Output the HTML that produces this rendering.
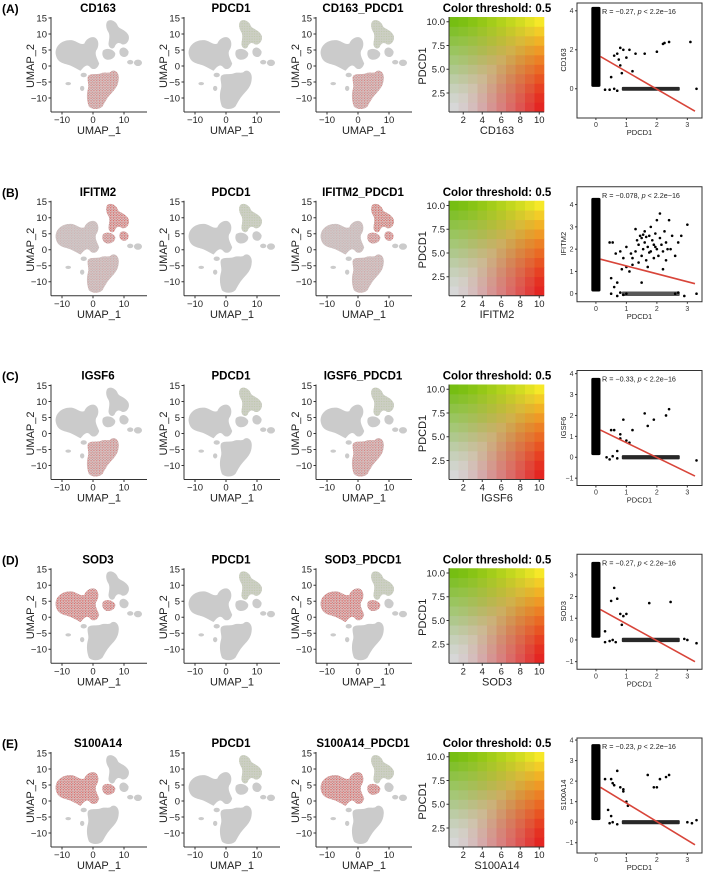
<!DOCTYPE html>
<html><head><meta charset="utf-8"><style>
body{margin:0;background:#fff;width:709px;height:873px;overflow:hidden}
svg text{font-family:"Liberation Sans",Arial,sans-serif}
</style></head><body>
<svg id="fig" width="709" height="873" xmlns="http://www.w3.org/2000/svg">
<defs>
<pattern id="redDots" width="0.9" height="0.8" patternUnits="userSpaceOnUse"><rect width="0.9" height="0.8" fill="#e2bcbc"/><circle cx="0.3" cy="0.3" r="0.22" fill="#d9534f"/><circle cx="0.72" cy="0.62" r="0.12" fill="#8a1c1c"/></pattern>
<pattern id="greenDots" width="0.8" height="0.8" patternUnits="userSpaceOnUse"><rect width="0.8" height="0.8" fill="#cdd0c4"/><circle cx="0.4" cy="0.4" r="0.18" fill="#b5c496"/></pattern>
</defs>
</svg>
<script>
const rowLabels=['(A)','(B)','(C)','(D)','(E)'];
const genes=['CD163','IFITM2','IGSF6','SOD3','S100A14'];
const rValues=['-0.27','-0.078','-0.33','-0.27','-0.23'];
const redRegion=['bottom','all','bottom','left','left'];
const umapTicks=[-10,0,10];
const umapYTicks=[15,10,5,0,-5,-10];
const heatXTicks=[2,4,6,8,10];
const heatYTicks=[2.5,5.0,7.5,10.0];
const scatXTicks=[0,1,2,3];
const scatYTicks=[[0,2,4],[0,1,2,3,4],[-1,0,1,2,3,4],[-1,0,1,2,3],[-1,0,1,2,3,4]];
const scatYDomain=[[-1.5,4.4],[-0.36,4.8],[-1.35,4.15],[-1.35,3.95],[-1.5,4.1]];
const bandTop=[4.2,4.3,3.8,3.6,3.8];
const lineY0=[1.65,1.55,1.3,1.4,1.7];
const lineY1=[-1.15,0.45,-0.9,-1.0,-1.1];
const outliers=[
[[0.5,0.6],[0.6,1.7],[0.7,1.8],[0.8,2.1],[0.9,2.0],[0.75,1.5],[0.8,1.2],[0.85,0.8],[1.0,1.6],[1.1,2.0],[1.2,0.9],[1.3,1.8],[1.6,1.8],[2.0,1.9],[2.2,2.3],[2.25,2.35],[2.4,2.4],[3.1,2.4],[3.3,0.0],[0.3,-0.05],[0.45,-0.05],[0.6,0.0],[0.7,-0.1]],
[[0.45,2.3],[0.5,0.7],[0.55,2.3],[0.6,0.3],[0.65,1.8],[0.7,0.5],[0.8,1.9],[0.85,1.1],[0.9,1.6],[1.0,1.2],[1.0,2.1],[1.1,1.0],[1.15,1.8],[1.2,1.3],[1.3,1.9],[1.3,2.9],[1.4,2.2],[1.45,2.6],[1.5,2.5],[1.5,1.7],[1.55,2.0],[1.6,2.8],[1.6,2.3],[1.65,1.5],[1.7,2.1],[1.75,2.6],[1.8,3.0],[1.8,1.9],[1.85,2.4],[1.9,1.6],[1.9,2.2],[1.95,2.7],[2.0,3.3],[2.0,2.0],[2.05,1.7],[2.1,2.5],[2.1,3.6],[2.15,2.2],[2.2,1.9],[2.25,2.8],[2.3,2.3],[2.3,1.5],[2.4,3.3],[2.45,2.0],[2.5,2.6],[2.6,1.7],[2.7,2.3],[2.8,2.6],[3.0,3.1],[1.2,1.6],[1.4,1.4],[1.7,1.2],[1.5,0.5],[2.2,1.1],[3.3,0.0],[0.5,0.0],[0.7,-0.1],[0.8,0.05],[0.9,-0.05],[1.0,0.0],[2.9,-0.1],[2.6,0.0],[2.7,0.05],[1.35,2.4],[1.65,2.55],[1.75,1.85],[2.35,2.0],[1.55,2.65],[1.95,2.1]],
[[0.5,1.3],[0.6,1.3],[0.7,0.3],[0.8,0.9],[0.9,1.8],[1.0,0.8],[1.1,0.7],[1.6,2.1],[1.7,1.5],[1.9,1.8],[2.3,2.0],[2.4,2.3],[0.8,1.1],[1.2,1.3],[3.3,-0.15],[0.35,0.0],[0.45,-0.1],[0.55,0.05],[0.7,-0.05]],
[[0.3,0.4],[0.5,1.8],[0.6,2.4],[0.7,1.9],[0.8,1.2],[0.9,1.1],[0.85,0.7],[1.0,1.2],[1.75,1.7],[2.45,1.75],[3.3,-0.15],[0.3,-0.1],[0.45,-0.05],[0.55,0.0],[0.65,-0.1],[2.9,0.05],[3.0,0.0]],
[[0.3,2.1],[0.5,2.1],[0.55,1.9],[0.6,1.8],[0.7,2.5],[0.8,1.7],[0.9,1.5],[0.9,1.6],[1.0,1.0],[1.05,0.8],[0.4,0.6],[0.5,0.3],[1.7,2.3],[1.9,1.7],[2.0,1.7],[2.1,2.1],[2.3,2.2],[2.4,2.3],[3.3,0.1],[0.45,-0.05],[0.55,0.0],[0.7,-0.1],[3.0,0.0],[3.15,-0.05]]
];
const bandX=[0.85,2.75];

const NS='http://www.w3.org/2000/svg';
const svg=document.getElementById('fig');
function mk(tag,attrs,parent){const e=document.createElementNS(NS,tag);for(const k in attrs)e.setAttribute(k,attrs[k]);(parent||svg).appendChild(e);return e;}
function txt(s,attrs,parent){const e=mk('text',attrs,parent);e.textContent=s;return e;}

const shapeLeft="M-12,3.5 C-12.5,6.5 -9.5,8.5 -6.5,8 C-5,7.6 -4,6.5 -2.8,7 C-2.2,8.5 -0.5,9.5 0.8,8.8 C2,8 2,6 1,4.8 C0.5,3.5 1.5,2 2,0.8 C1.5,-1 0,-1.5 -1,-0.3 C-2,0.8 -3,-0.3 -4,-1.5 C-5.2,-1 -6.3,-0.2 -7.8,0.3 C-9.5,0.8 -11.5,1 -12,3.5 Z";
const shapeTop="M4.5,13.8 C5.5,15 7.5,14 8,12.5 C8.5,11.5 10.5,11.5 11.5,9.5 C12,7.8 10.5,6.3 9.3,6.8 C8.3,7.5 7.5,7.2 7,6 C6.5,5 5,5.5 5,7 C5.2,8.5 5.5,9.5 5,10.5 C4.3,11.5 4,12.8 4.5,13.8 Z M9,5.5 C10,6.2 11,5.5 11.5,4.5 C11.5,3 10.3,2.5 9.3,3 C8.3,3.5 8.3,5 9,5.5 Z";
const shapeMid="M3.2,4.8 C4.3,5.9 6.7,5.3 7.2,3.9 C7.2,2.4 5.6,1.8 4.4,2 C3.2,2.3 2.7,3.6 3.2,4.8 Z";
const shapeBottom="M-1.5,-3 C-0.5,-2.2 1,-2.8 2.5,-2.3 C4,-1.7 5,-2.6 6,-1.6 C7.2,-1 8.5,-2.2 8.3,-4 C8.2,-6 7.2,-7.2 6.2,-8.2 C5.2,-9.2 4.2,-10.5 3.3,-12.2 C2.7,-13.7 -0.2,-13.8 -1.3,-12.7 C-2,-11 -2.2,-9 -1.6,-7 C-1.2,-5.5 -2.2,-4 -1.5,-3 Z";
const shapeSmall="M-8,-6 a0.9,0.5 0 1,0 0.01,0 Z M-3.5,-7.8 a0.7,0.8 0 1,0 0.01,0 Z M12,0.5 a1,0.7 0 1,0 0.01,0 Z M14.5,0 a1.3,1 0 1,0 0.01,0 Z M-3,-3.5 a1,0.7 0 1,0 0.01,0 Z M0.5,-0.5 a0.6,0.6 0 1,0 0.01,0 Z";

function umapPanel(g,ox,title,mode,row){
  const p=mk('g',{transform:`translate(${ox},0)`},g);
  
  
  const t=txt(title,{x:47,y:12,'text-anchor':'middle','font-size':11.5,'font-weight':'bold'},p);
  
  
  const sx=v=>42+v*3.1, sy=v=>66-v*3.2;
  const plot=mk('g',{transform:'translate(42,66) scale(3.1,-3.2)'},p);
  [shapeLeft,shapeTop,shapeMid,shapeBottom,shapeSmall].forEach(d=>mk('path',{d:d,fill:'#cbcbcb'},plot));
  if(mode==='pdcd1'||mode==='combo') mk('path',{d:shapeTop.split('Z')[0]+'Z',fill:'url(#greenDots)',opacity:0.8},plot);
  if(mode==='gene'||mode==='combo'){
    const reg=redRegion[row];
    let ds=[];
    if(reg==='bottom') ds=[shapeBottom];
    if(reg==='left') ds=[shapeLeft,shapeMid];
    if(reg==='all') ds=[shapeTop];
    ds.forEach(d=>mk('path',{d:d,fill:'url(#redDots)',opacity:reg==='bottom'?0.6:0.85},plot));
    if(reg==='all'){mk('path',{d:shapeLeft,fill:'url(#redDots)',opacity:0.2},plot);mk('path',{d:shapeBottom,fill:'url(#redDots)',opacity:0.3},plot);mk('path',{d:shapeMid,fill:'url(#redDots)',opacity:0.7},plot);}
  }
  const ax=mk('g',{stroke:'#333','stroke-width':1},p);
  
  
  mk('line',{x1:0,y1:17,x2:0,y2:112},ax);
  mk('line',{x1:0,y1:112,x2:96,y2:112},ax);
  umapYTicks.forEach(v=>{mk('line',{x1:-2.5,x2:0,y1:sy(v),y2:sy(v)},ax);
    const l=txt(String(v).replace('-','−'),{x:-4,y:sy(v)+3.3,'text-anchor':'end','font-size':9.5,fill:'#222'},p);
    
    });
  umapTicks.forEach(v=>{mk('line',{x1:sx(v),x2:sx(v),y1:112,y2:114.5},ax);
    const l=txt(String(v).replace('-','−'),{x:sx(v),y:123,'text-anchor':'middle','font-size':9.5,fill:'#222'},p);
    
    });
  const xt=txt('UMAP_1',{x:48,y:134,'text-anchor':'middle','font-size':11,fill:'#222'},p);
  
  
  const yt=txt('UMAP_2',{x:0,y:0,'text-anchor':'middle','font-size':11,fill:'#222',transform:'translate(-17,66) rotate(-90)'},p);
  
  
}

function heatPanel(g,row){
  const p=mk('g',{},g);
  
  
  const x0=449,y0=17,w=95,h=95;
  const hx=v=>x0+(v-0.5)*9.5, hy=v=>y0+(10.5-v)*9.5;
  const G=[206,206,206],R=[228,38,34],Gn=[118,190,18],Y=[246,232,40];
  for(let i=1;i<=10;i++)for(let j=1;j<=10;j++){
    const a=Math.pow((i-1)/9,1.3),b=Math.pow((j-1)/9,1.3);
    let c=[0,1,2].map(k=>(1-a)*(1-b)*G[k]+a*(1-b)*R[k]+(1-a)*b*Gn[k]+a*b*Y[k]);
    const lift=Math.max(0,0.35-Math.abs(a-b))*0.5*(1-Math.max(a,b));
    c=c.map(v=>Math.round(v+(255-v)*lift));
    const r=mk('rect',{x:hx(i-0.5),y:hy(j+0.5),width:9.8,height:9.8,fill:`rgb(${c})`},p);
    
    
  }
  const t=txt('Color threshold: 0.5',{x:497,y:12,'text-anchor':'middle','font-size':11.5,'font-weight':'bold'},p);
  
  
  mk('line',{x1:x0,y1:y0,x2:x0,y2:y0+h,stroke:'#333'},p);
  mk('line',{x1:x0,y1:y0+h,x2:x0+w,y2:y0+h,stroke:'#333'},p);
  heatXTicks.forEach(v=>{mk('line',{x1:hx(v),x2:hx(v),y1:y0+h,y2:y0+h+2.5,stroke:'#333'},p);
    const l=txt(String(v),{x:hx(v),y:123,'text-anchor':'middle','font-size':9.5,fill:'#222'},p);
    
    });
  heatYTicks.forEach(v=>{mk('line',{x1:x0-2.5,x2:x0,y1:hy(v),y2:hy(v),stroke:'#333'},p);
    const l=txt(v.toFixed(1),{x:x0-4,y:hy(v)+3.3,'text-anchor':'end','font-size':9.5,fill:'#222'},p);
    
    });
  const xt=txt(genes[row],{x:497,y:134,'text-anchor':'middle','font-size':11,fill:'#222'},p);
  
  
  const yt=txt('PDCD1',{x:0,y:0,'text-anchor':'middle','font-size':11,fill:'#222',transform:'translate(426,66) rotate(-90)'},p);
  
  
}

function scatterPanel(g,row){
  const p=mk('g',{},g);
  
  
  const bx0=577,bx1=702,by0=3,by1=118;
  const xd=[-0.62,3.48],yd=scatYDomain[row];
  const sx=v=>bx0+(v-xd[0])/(xd[1]-xd[0])*(bx1-bx0);
  const sy=v=>by1-(v-yd[0])/(yd[1]-yd[0])*(by1-by0);
  mk('rect',{x:bx0,y:by0,width:bx1-bx0,height:by1-by0,fill:'#fff'},p);
  const band=mk('rect',{x:sx(-0.15),y:sy(bandTop[row]),width:sx(0.15)-sx(-0.15),height:sy(0.1)-sy(bandTop[row]),fill:'#000',rx:1.5},p);
  
  
  const hb=mk('rect',{x:sx(bandX[0]),y:sy(0.1),width:sx(bandX[1])-sx(bandX[0]),height:Math.max(2.5,sy(-0.1)-sy(0.1)),fill:'#111',opacity:row===1?0.7:0.9,rx:1},p);
  
  
  outliers[row].forEach(pt=>{const c=mk('circle',{cx:sx(pt[0]),cy:sy(pt[1]),r:1.3,fill:'#000'},p);
    
    });
  const ln=mk('line',{x1:sx(0.15),y1:sy(lineY0[row]),x2:sx(3.25),y2:sy(lineY1[row]),stroke:'#d8453a','stroke-width':1.6},p);
  
  
  mk('rect',{x:bx0,y:by0,width:bx1-bx0,height:by1-by0,fill:'none',stroke:'#333','stroke-width':1},p);
  const lab=txt('',{x:sx(0.2),y:sy(yd[1])+11,'font-size':7.2,fill:'#222'},p);
  lab.innerHTML=`R = ${rValues[row].replace('-','−')}, <tspan font-style="italic">p</tspan> &lt; 2.2e−16`;
  
  
  scatXTicks.forEach(v=>{mk('line',{x1:sx(v),x2:sx(v),y1:by1,y2:by1+2,stroke:'#333'},p);
    const l=txt(String(v),{x:sx(v),y:by1+9,'text-anchor':'middle','font-size':7,fill:'#333'},p);
    
    });
  scatYTicks[row].forEach(v=>{mk('line',{x1:bx0-2,x2:bx0,y1:sy(v),y2:sy(v),stroke:'#333'},p);
    const l=txt(String(v).replace('-','−'),{x:bx0-3.5,y:sy(v)+2.4,'text-anchor':'end','font-size':7,fill:'#333'},p);
    
    });
  const xt=txt('PDCD1',{x:(bx0+bx1)/2,y:by1+17,'text-anchor':'middle','font-size':7.5,fill:'#222'},p);
  
  
  const yt=txt(genes[row],{x:0,y:0,'text-anchor':'middle','font-size':7.5,fill:'#222',transform:`translate(566,60) rotate(-90)`},p);
  
  
}

genes.forEach((gene,row)=>{
  const g=mk('g',{transform:`translate(0,${(row*183.75).toFixed(2)})`});
  
  
  const L=txt(rowLabels[row],{x:2,y:13,'font-size':12,'font-weight':'bold'},g);
  
  
  umapPanel(g,51,gene,'gene',row);
  umapPanel(g,184,'PDCD1','pdcd1',row);
  umapPanel(g,316,gene+'_PDCD1','combo',row);
  heatPanel(g,row);
  scatterPanel(g,row);
});
</script>
</body></html>
